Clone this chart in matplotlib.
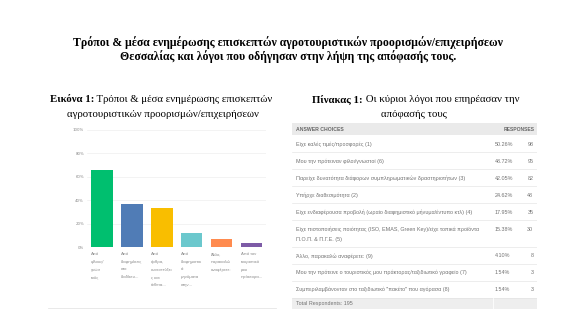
import matplotlib
matplotlib.use("Agg")
import matplotlib.pyplot as plt
from matplotlib.lines import Line2D
from matplotlib.patches import Rectangle

# ---- data ----
title_lines = ["Τρόποι & μέσα ενημέρωσης επισκεπτών αγροτουριστικών προορισμών/επιχειρήσεων",
               "Θεσσαλίας και λόγοι που οδήγησαν στην λήψη της απόφασής τους."]

fig1_prefix = "Εικόνα 1:"
fig1_title = [" Τρόποι & μέσα ενημέρωσης επισκεπτών", "αγροτουριστικών προορισμών/επιχειρήσεων"]
bar_labels = ["Από\nφίλους/\nγνωσ\nτούς",
              "Από\nδιαφημίσεις\nστο\nδιαδίκτυ...",
              "Από\nάρθρα,\nσυνεντεύξει\nς και\nένθετα...",
              "Από\nδιαφημιστικ\nά\nμηνύματα\nστην...",
              "Άλλο,\nπαρακαλώ\nαναφέρετε:",
              "Από τον\nτουριστικό\nμου\nπράκτορα..."]
bar_values = [66, 36.5, 33, 12, 7, 3.5]
bar_colors = ["#00bf6f", "#507cb6", "#f9be00", "#6bc8cd", "#ff8b4f", "#7d5ba6"]
y_ticks = [0, 20, 40, 60, 80, 100]

tab1_prefix = "Πίνακας 1:"
tab1_title = [" Οι κύριοι λόγοι που επηρέασαν την", "απόφασής τους"]
answer_choices = ["Είχε καλές τιμές/προσφορές (1)",
                  "Μου την πρότειναν φίλοι/γνωστοί (6)",
                  "Παρείχε δυνατότητα διάφορων συμπληρωματικών δραστηριοτήτων (3)",
                  "Υπήρχε διαθεσιμότητα (2)",
                  "Είχε ενδιαφέρουσα προβολή (ωραίο διαφημιστικό μήνυμα/έντυπο κτλ) (4)",
                  "Είχε πιστοποιήσεις ποιότητας (ISO, EMAS, Green Key)/είχε τοπικά προϊόντα\nΠ.Ο.Π. & Π.Γ.Ε. (5)",
                  "Άλλο, παρακαλώ αναφέρετε: (9)",
                  "Μου την πρότεινε ο τουριστικός μου πράκτορας/ταξιδιωτικό γραφείο (7)",
                  "Συμπεριλαμβάνονταν στο ταξιδιωτικό \"πακέτο\" που αγόρασα (8)"]
response_pct = [50.26, 48.72, 42.05, 24.62, 17.95, 15.38, 4.10, 1.54, 1.54]
response_count = [98, 95, 82, 48, 35, 30, 8, 3, 3]
total_respondents = 195

W, H = 576, 324
fig = plt.figure(figsize=(W / 72, H / 72), dpi=72)
fig.patch.set_facecolor("white")


def fx(x):
    return x / W


def fy(y):
    return 1 - y / H


serif = "Liberation Serif"
sans = "Liberation Sans"

# main title
fig.text(fx(288), fy(43), title_lines[0], ha="center", va="center",
         family=serif, weight="bold", size=11.8)
fig.text(fx(288), fy(56.5), title_lines[1], ha="center", va="center",
         family=serif, weight="bold", size=11.8)


def caption(x_left, x_center, y, prefix, lines):
    t = fig.text(fx(x_left), fy(y), prefix, ha="left", va="center",
                 family=serif, weight="bold", size=10.7)
    fig.canvas.draw()
    bb = t.get_window_extent()
    fig.text(bb.x1 / W, fy(y), lines[0], ha="left", va="center", family=serif, size=10.7)
    fig.text(fx(x_center), fy(y + 14.5), lines[1], ha="center", va="center",
             family=serif, size=10.7)


caption(50, 163, 100, fig1_prefix, fig1_title)
caption(312, 414, 100, tab1_prefix, tab1_title)

# ---- bar chart ----
ax = fig.add_axes([fx(87), fy(247.3), fx(266.5) - fx(87), fy(129.6) - fy(247.3)])
x = range(len(bar_values))
bw = 0.72
ax.bar(x, bar_values, width=bw, color=bar_colors, zorder=3)
ax.set_xlim(-0.5, len(bar_values) - 0.5)
ax.set_ylim(0, 100)
ax.set_yticks(y_ticks)
ax.set_yticklabels([f"{v}%" for v in y_ticks])
ax.tick_params(axis="y", length=0, pad=3, labelsize=3.9, labelcolor="#8a8a8a")
ax.set_xticks([])
for s in ax.spines.values():
    s.set_visible(False)
ax.grid(axis="y", color="#ececec", linewidth=0.6, zorder=0)
ax.axhline(0, color="#d8d8d8", linewidth=0.6, zorder=1)
for i, lab in enumerate(bar_labels):
    ax.annotate(lab, xy=(i - bw / 2, 0), xycoords="data", xytext=(0, -5),
                textcoords="offset points", ha="left", va="top",
                size=4.2, color="#8a8a8a", linespacing=2.2, family=sans)

fig.add_artist(Line2D([fx(48), fx(276)], [fy(308), fy(308)], color="#e4e4e4", linewidth=0.8))

# ---- table ----
row_h = [17 if "\n" not in a else 26.5 for a in answer_choices]
head_h, tot_h = 11.6, 11.7
tab_h = head_h + sum(row_h) + tot_h
tx0, tx1, ty0 = 292, 537, 123.4
tab = fig.add_axes([fx(tx0), fy(ty0 + tab_h), fx(tx1) - fx(tx0), fy(ty0) - fy(ty0 + tab_h)])
tab.set_xlim(0, 1)
tab.set_ylim(tab_h, 0)
tab.axis("off")

pct_x, cnt_x, pad = 0.827, 0.985, 0.017
txt_col = "#727272"
fs = 5.4

tab.add_patch(Rectangle((0, 0), 1, head_h, color="#eaeaea", lw=0))
tab.text(pad, head_h / 2 + 0.3, "ANSWER CHOICES", ha="left", va="center", size=5.1,
         weight="bold", color="#666666", family=sans)
tab.text(cnt_x + 0.005, head_h / 2 + 0.3, "RESPONSES", ha="right", va="center", size=5.0,
         weight="bold", color="#666666", family=sans)

top = head_h
for label, pct, cnt, h in zip(answer_choices, response_pct, response_count, row_h):
    tab.text(pad, top + 6.6, label, ha="left", va="top", size=fs, color=txt_col,
             family=sans, linespacing=2.1)
    tab.text(pct_x, top + 6.6, f"{pct:.2f}%", ha="left", va="top", size=fs,
             color=txt_col, family=sans)
    tab.text(cnt_x, top + 6.6, f"{cnt}", ha="right", va="top", size=fs,
             color=txt_col, family=sans)
    top += h
    tab.axhline(top, color="#e2e2e2", linewidth=0.6)

tab.add_patch(Rectangle((0, top), 1, tot_h, color="#eeeeee", lw=0))
tab.axvline(pct_x - 0.006, ymin=0, ymax=tot_h / tab_h, color="white", linewidth=0.8)
tab.text(pad, top + tot_h / 2 + 0.3, f"Total Respondents: {total_respondents}", ha="left",
         va="center", size=fs, color=txt_col, family=sans)

fig.savefig("out.png", dpi=72, facecolor="white")
